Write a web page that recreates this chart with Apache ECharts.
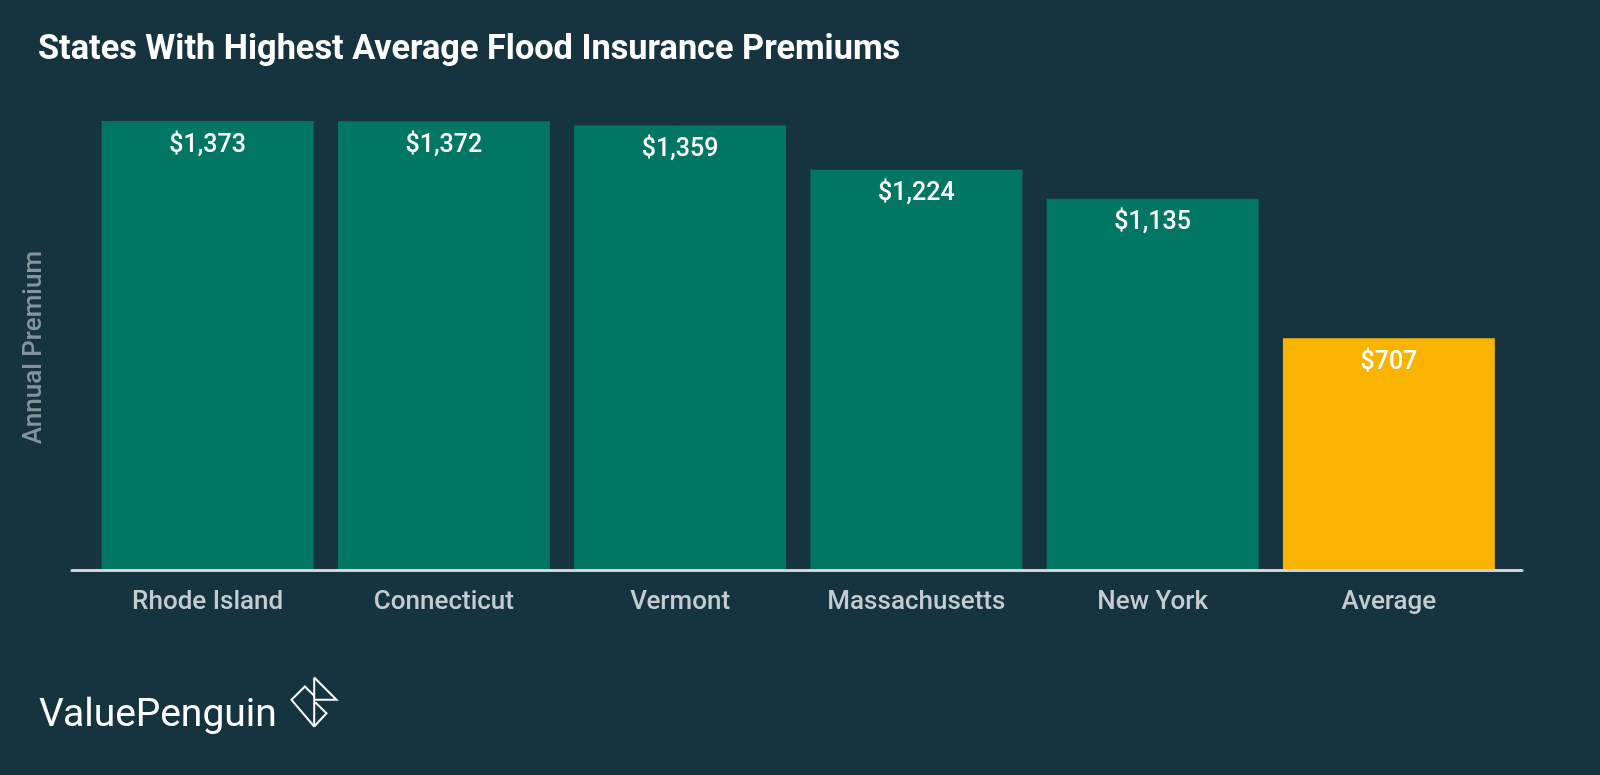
<!DOCTYPE html>
<html>
<head>
<meta charset="utf-8">
<script src="https://cdn.jsdelivr.net/npm/echarts@6/dist/echarts.min.js"></script>
<style>
html,body{margin:0;padding:0;background:#153440;}
#chart{width:1600px;height:775px;}
</style>
</head>
<body>
<div id="chart"></div>
<script>
var categories = ['Rhode Island', 'Connecticut', 'Vermont', 'Massachusetts', 'New York', 'Average'];
var premiums = [1373, 1372, 1359, 1224, 1135, 707];
var highlight = ['state', 'state', 'state', 'state', 'state', 'average'];

var GREEN = '#017763';
var YELLOW = '#f9b401';

var chart = echarts.init(document.getElementById('chart'));
var seriesData = premiums.map(function (v, i) {
  return { value: v, itemStyle: { color: highlight[i] === 'average' ? YELLOW : GREEN } };
});

chart.setOption({
  backgroundColor: '#153440',
  animation: false,
  textStyle: { fontFamily: 'Roboto' },
  title: {
    text: 'States With Highest Average Flood Insurance Premiums',
    left: 38, top: 33, padding: 0,
    textStyle: { color: '#ffffff', fontSize: 34.3, fontWeight: 'bold', fontFamily: 'Roboto' }
  },
  grid: [
    { left: 89.5, right: 93, top: 112.2, bottom: 206 },
    { left: 72, right: 78, top: 112.2, bottom: 204.5 }
  ],
  xAxis: [
    {
      type: 'category', gridIndex: 0, data: categories,
      axisLine: { show: false }, axisTick: { show: false },
      axisLabel: { color: '#c5ccd0', fontSize: 26, fontWeight: 500, margin: 20, fontFamily: 'Roboto' }
    },
    {
      type: 'category', gridIndex: 1, data: [],
      axisLine: { show: true, lineStyle: { color: '#d2d4d4', width: 3 } },
      axisTick: { show: false }, axisLabel: { show: false }
    }
  ],
  yAxis: [
    {
      type: 'value', gridIndex: 0, min: 0, max: 1400,
      axisLine: { show: false }, axisTick: { show: false }, axisLabel: { show: false },
      splitLine: { show: false },
      name: 'Annual Premium', nameLocation: 'middle', nameGap: 42,
      nameTextStyle: { color: '#82949c', fontSize: 26, fontWeight: 500, fontFamily: 'Roboto', padding: [0, 14, 0, 0] }
    },
    {
      type: 'value', gridIndex: 1, min: 0, max: 1400, show: false
    }
  ],
  series: [{
    type: 'bar', xAxisIndex: 0, yAxisIndex: 0,
    data: seriesData,
    barCategoryGap: '10.3%',
    label: {
      show: true, position: 'insideTop', distance: 12,
      color: '#ffffff', fontSize: 25, fontWeight: 500, lineHeight: 25, fontFamily: 'Roboto',
      formatter: function (p) { return '$' + p.value.toLocaleString('en-US'); }
    }
  }],
  graphic: [
    {
      type: 'text', left: 39, top: 697,
      style: { text: 'ValuePenguin', fill: '#ffffff', font: '39px Roboto' }
    },
    {
      type: 'group', left: 289, top: 675,
      children: [
        { type: 'polyline', shape: { points: [[26, 1], [48.3, 23.3], [26, 23.3]] }, style: { stroke: '#fff', fill: 'none', lineWidth: 2 } },
        { type: 'line', shape: { x1: 26, y1: 1, x2: 26, y2: 50 }, style: { stroke: '#fff', lineWidth: 2 } },
        { type: 'polyline', shape: { points: [[27, 25.7], [38.3, 36.7], [26, 50]] }, style: { stroke: '#fff', fill: 'none', lineWidth: 2 } },
        { type: 'polyline', shape: { points: [[26, 19.3], [16.7, 10], [3.3, 23.3], [26, 50]] }, style: { stroke: '#fff', fill: 'none', lineWidth: 2 } }
      ]
    }
  ]
});
</script>
</body>
</html>
